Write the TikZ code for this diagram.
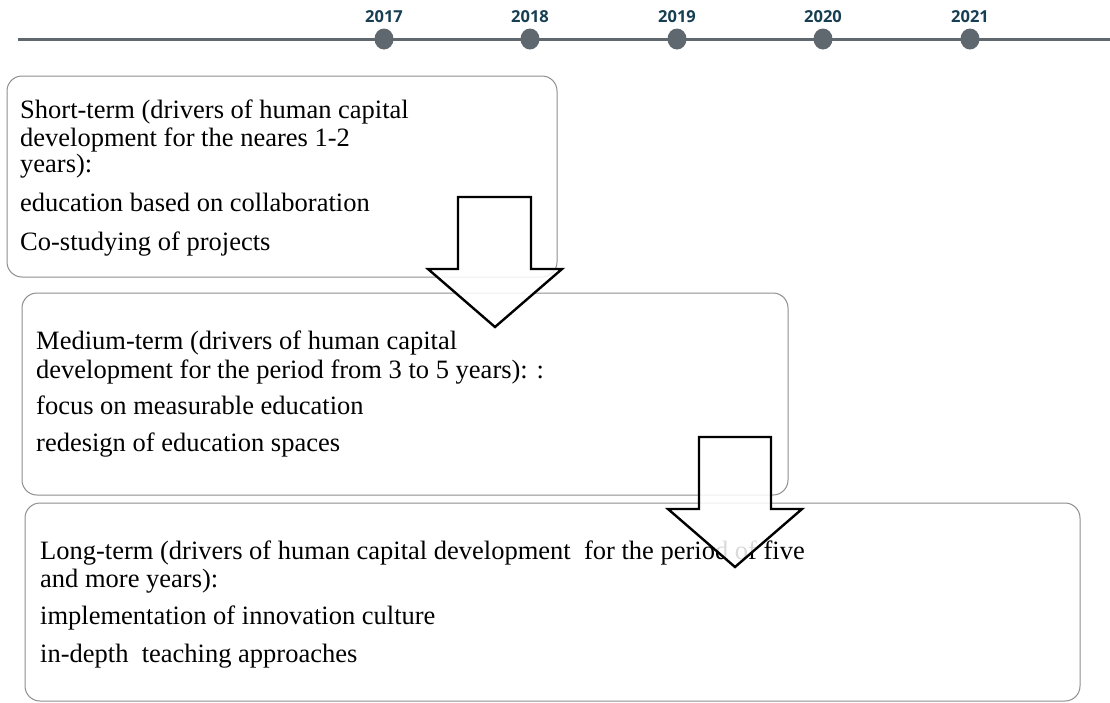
\documentclass[tikz,border=0pt]{standalone}
\usepackage{fontspec}
\usetikzlibrary{shapes.geometric}
\setmainfont{Liberation Serif}
\newfontfamily\yearfont{Open Sans}
\definecolor{tl}{HTML}{5F676F}
\definecolor{yr}{HTML}{173E52}
\definecolor{bx}{HTML}{8E8E8E}
\begin{document}
\begin{tikzpicture}[x=1pt,y=-1pt,
  year/.style={font=\yearfont\bfseries\fontsize{16.5}{19}\selectfont, text=yr, inner sep=0pt},
  dot/.style={ellipse, fill=tl, minimum width=19pt, minimum height=21pt, inner sep=0pt},
  termbox/.style={draw=bx, line width=1pt, rounded corners=15pt},
  txt/.style={anchor=base west, inner sep=0pt, font=\fontsize{26.5}{30}\selectfont, text=black},
  bigarrow/.style={draw=black, line width=2.4pt, fill=white, fill opacity=0.85, line join=miter}]
\useasboundingbox (0,0) rectangle (1110,702);
% timeline
\coordinate (tlA) at (18,39);
\coordinate (tlB) at (1110,39);
\draw[tl, line width=3pt] (tlA) -- (tlB);
\foreach \x/\y in {384/2017,530/2018,677/2019,823/2020,970/2021}{
  \node[dot] (d\y) at (\x,39) {};
  \node[year] (y\y) at (\x,17) {\y};
}
% boxes
\draw[termbox] (7,76) rectangle (557,277);
\draw[termbox] (22,293) rectangle (788,495);
\draw[termbox] (25,503) rectangle (1080,701);
% text box 1
\node[txt] (s1) at (20,118) {Short-term (drivers of human capital};
\node[txt] (s2) at (20,146) {development for the neares 1-2};
\node[txt] (s3) at (20,172) {years):};
\node[txt] (s4) at (20,211) {education based on collaboration};
\node[txt] (s5) at (20,250) {Co-studying of projects};
% text box 2
\node[txt] (m1) at (36,349) {Medium-term (drivers of human capital};
\node[txt] (m2) at (36,378) {development for the period from 3 to 5 years): :};
\node[txt] (m3) at (36,414) {focus on measurable education};
\node[txt] (m4) at (36,451) {redesign of education spaces};
% text box 3
\node[txt] (l1) at (40,559) {Long-term (drivers of human capital development\ \ for the period of five};
\node[txt] (l2) at (40,587) {and more years):};
\node[txt] (l3) at (40,624) {implementation of innovation culture};
\node[txt] (l4) at (40,662) {in-depth\ \ teaching approaches};
% arrows
\draw[bigarrow] (458,197) -- (531,197) -- (531,269) -- (562,269) -- (495,327) -- (428,269) -- (458,269) -- cycle;
\draw[bigarrow] (699,437) -- (771,437) -- (771,509) -- (802,509) -- (735,567) -- (668,509) -- (699,509) -- cycle;
\end{tikzpicture}
\end{document}
